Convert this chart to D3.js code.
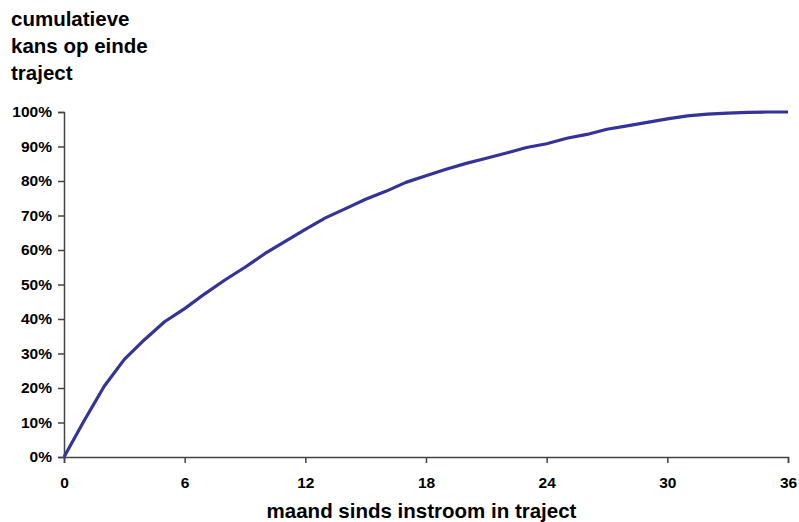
<!DOCTYPE html>
<html><head><meta charset="utf-8">
<script src="https://cdn.jsdelivr.net/npm/d3@7"></script>
<style>body{margin:0;background:#fff}svg{display:block}text{font-family:"Liberation Sans",Arial,sans-serif;font-weight:bold;fill:#000}</style>
</head><body>
<script>
const months = d3.range(0, 37);
const cumulative = [0, 10.5, 20.5, 28.3, 34, 39.2, 43, 47.3, 51.3, 55, 59, 62.5, 66, 69.3, 72, 74.7, 77, 79.6, 81.5, 83.4, 85.1, 86.6, 88.1, 89.7, 90.8, 92.4, 93.5, 95, 96, 97, 98, 98.9, 99.4, 99.7, 99.9, 100, 100];
const xTicks = [0, 6, 12, 18, 24, 30, 36];
const yTicks = [0, 10, 20, 30, 40, 50, 60, 70, 80, 90, 100];
const titleLines = ["cumulatieve", "kans op einde", "traject"];
const xTitle = "maand sinds instroom in traject";

const W = 799, H = 522;
const svg = d3.select("body").append("svg").attr("width", W).attr("height", H);
const x = d3.scaleLinear().domain([0, 36]).range([64, 788]);
const y = d3.scaleLinear().domain([0, 100]).range([457, 112]);

const yAxis = svg.append("g").attr("transform", "translate(64,0)")
  .call(d3.axisLeft(y).tickValues(yTicks).tickSize(6).tickPadding(6).tickFormat(d => d + "%"));
const xAxis = svg.append("g").attr("transform", "translate(0,457)")
  .call(d3.axisBottom(x).tickValues(xTicks).tickSize(6).tickPadding(14).tickFormat(d3.format("d")));
[yAxis, xAxis].forEach(g => {
  g.select(".domain").attr("stroke", "#444").attr("stroke-width", 1.5);
  g.selectAll(".tick line").attr("stroke", "#444").attr("stroke-width", 1.5);
  g.selectAll(".tick text").attr("font-size", 15.5).attr("font-family", "Liberation Sans, Arial, sans-serif").attr("font-weight", "bold").attr("fill", "#000");
});

svg.append("path").datum(months)
  .attr("fill", "none").attr("stroke", "#333399").attr("stroke-width", 3.2).attr("stroke-linejoin", "round")
  .attr("d", d3.line().x(d => x(d)).y(d => y(cumulative[d])));

svg.append("g").selectAll("text").data(titleLines).join("text")
  .attr("x", 11).attr("y", (d, i) => 26 + i * 27).attr("font-size", 20.5).text(d => d);

svg.append("text").attr("x", 421.5).attr("y", 518).attr("text-anchor", "middle")
  .attr("font-size", 20.5).text(xTitle);
</script>
</body></html>
